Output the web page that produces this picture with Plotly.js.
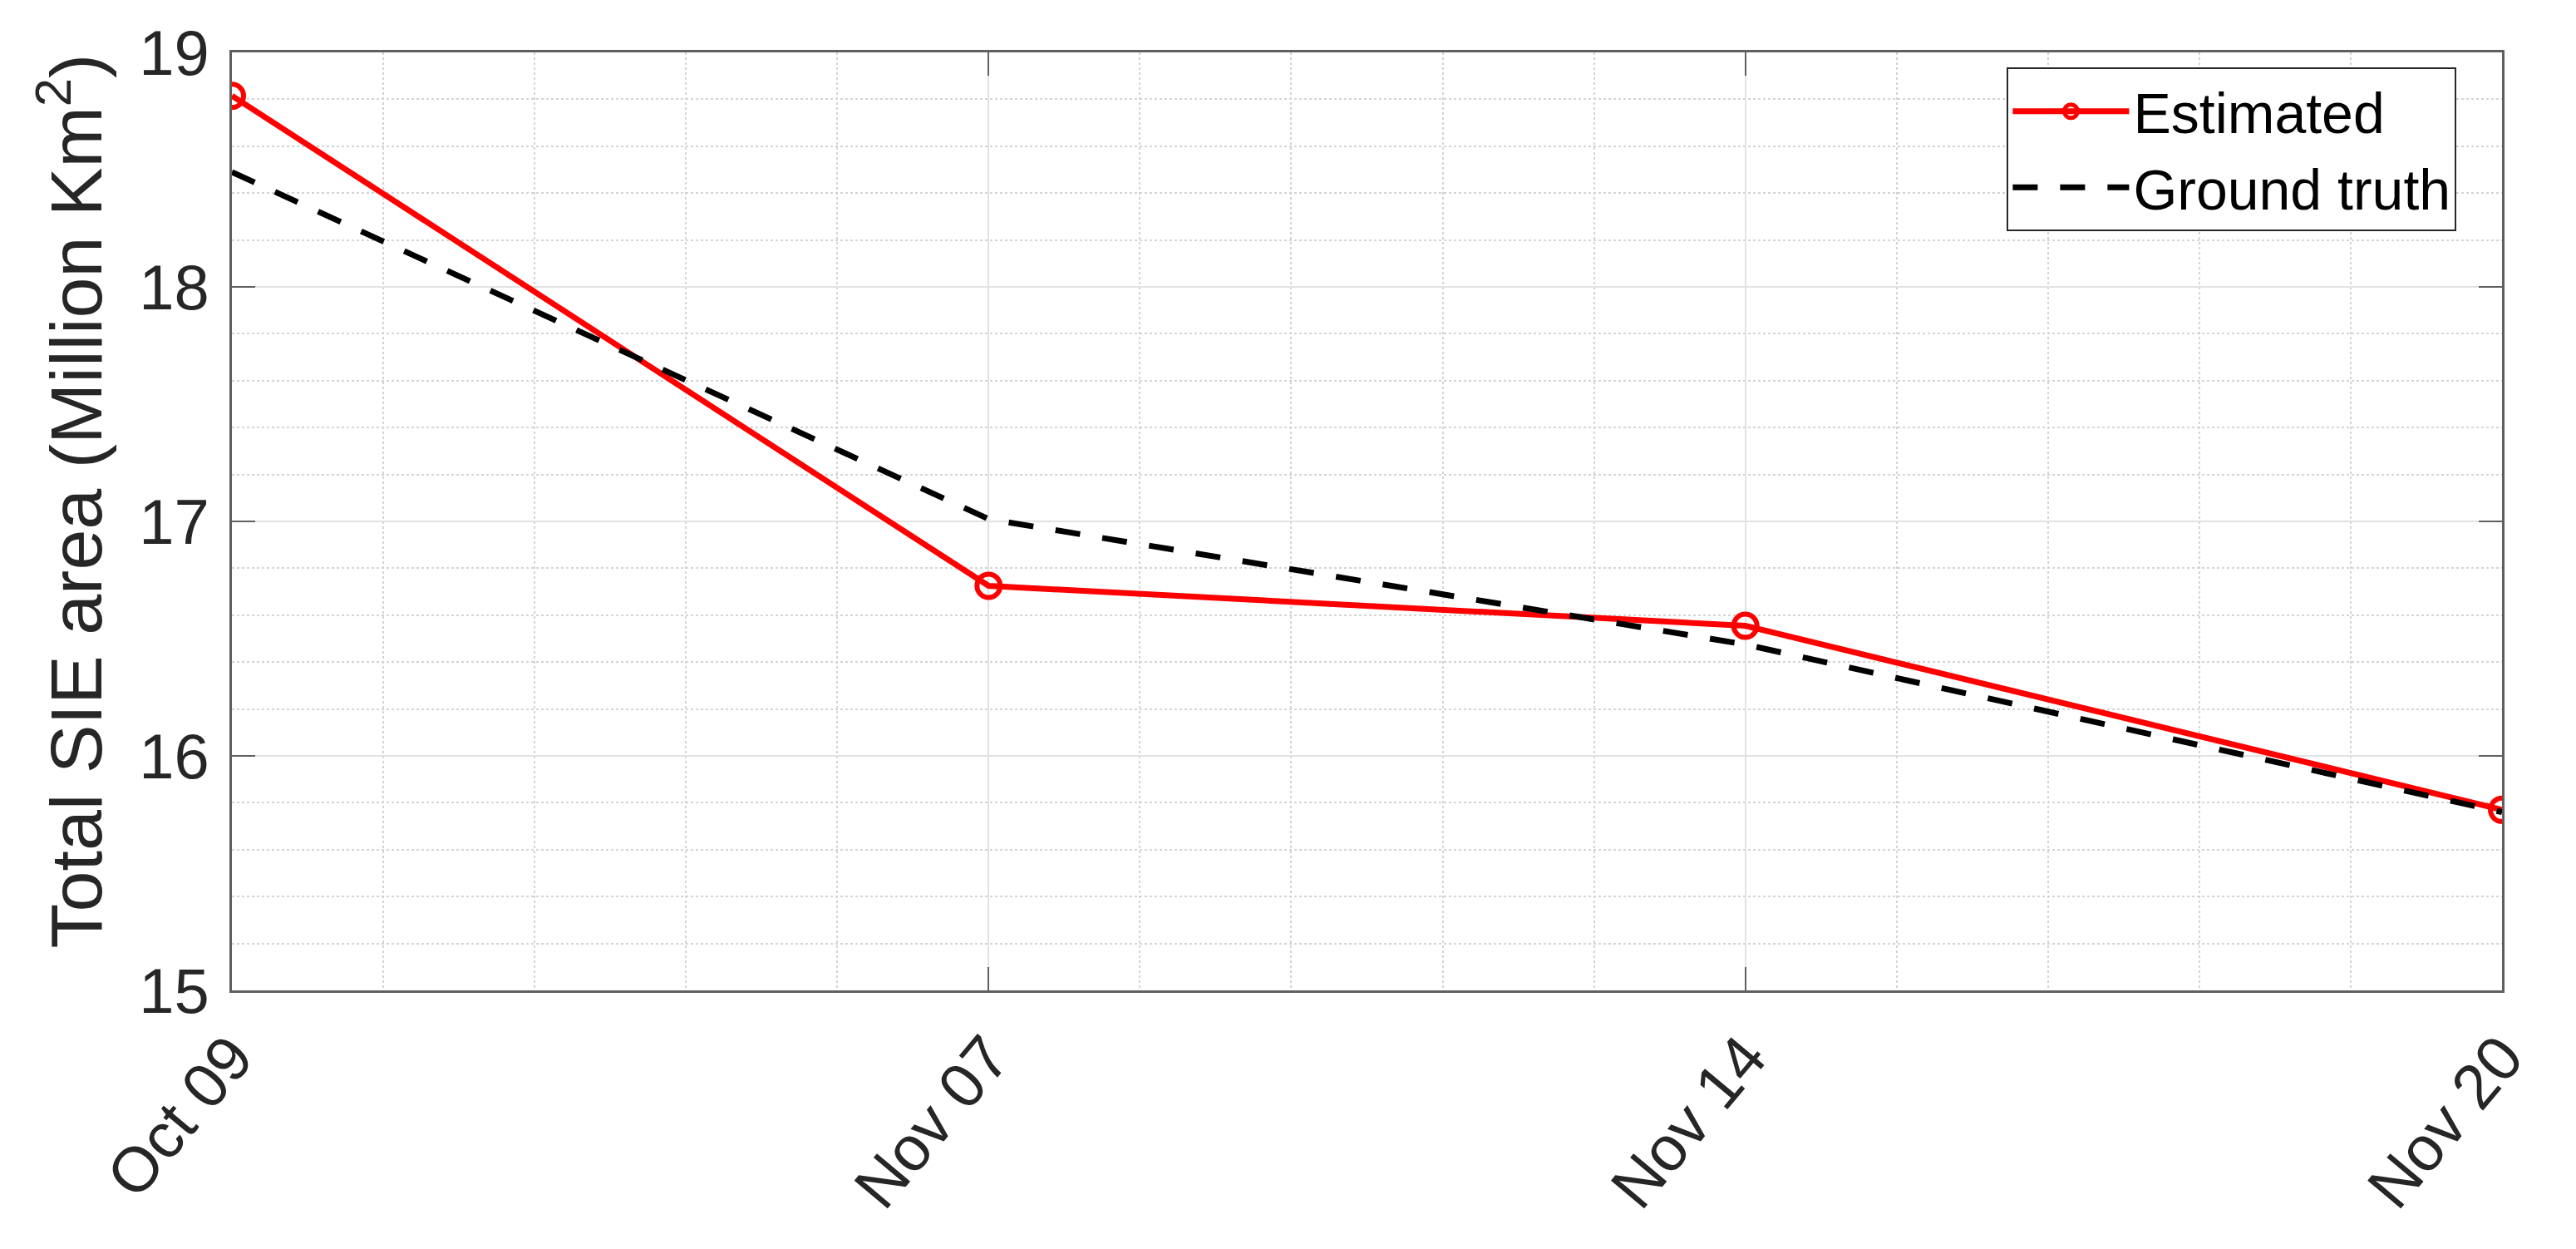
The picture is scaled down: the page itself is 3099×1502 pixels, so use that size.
<!DOCTYPE html>
<html>
<head>
<meta charset="utf-8">
<script src="https://cdn.plot.ly/plotly-3.0.1.min.js"></script>
<style>html,body{margin:0;padding:0;background:#fff;}#chart{width:3099px;height:1502px;}</style>
</head>
<body>
<div id="chart"></div>
<script>
// ---- data ----
const categories = ["Oct 09", "Nov 07", "Nov 14", "Nov 20"];
const estimated = [18.815, 16.725, 16.555, 15.77];
const groundTruth = [18.49, 17.01, 16.475, 15.76];
const yTickVals = [15, 16, 17, 18, 19];
const seriesNames = ["Estimated", "Ground truth"];

const xIdx = categories.map((_, i) => i);
const FONT = '"Liberation Sans", Arial, Helvetica, sans-serif';
const AX = '#5f5f5f';

const traces = [
  {
    x: xIdx, y: estimated, name: seriesNames[0], type: 'scatter', mode: 'lines+markers',
    line: {color: '#ff0000', width: 7},
    marker: {symbol: 'circle-open', size: 28, color: '#ff0000', line: {width: 6, color: '#ff0000'}}
  },
  {
    x: xIdx, y: groundTruth, name: seriesNames[1], type: 'scatter', mode: 'lines',
    line: {color: '#000000', width: 7, dash: '30px,27px'}
  }
];

const layout = {
  width: 3099, height: 1502,
  paper_bgcolor: '#ffffff', plot_bgcolor: '#ffffff',
  margin: {l: 279, r: 89, t: 63, b: 311, pad: 0},
  font: {family: FONT, color: '#262626'},
  showlegend: true,
  legend: {
    x: 0.98, y: 0.984, xanchor: 'right', yanchor: 'top',
    bgcolor: '#ffffff', bordercolor: '#262626', borderwidth: 2,
    font: {family: FONT, size: 68, color: '#000000'},
    itemwidth: 140, tracegroupgap: 0
  },
  xaxis: {
    type: 'linear', range: [0, categories.length - 1],
    tickmode: 'array', tickvals: xIdx, ticktext: categories,
    tickangle: -50, tickfont: {family: FONT, size: 76, color: '#262626'},
    ticklabelstandoff: 2,
    ticks: 'inside', ticklen: 28, tickwidth: 2, tickcolor: AX,
    showline: true, linecolor: AX, linewidth: 3, mirror: 'ticks',
    showgrid: true, gridcolor: '#e2e2e2', gridwidth: 2,
    minor: {dtick: 0.2, showgrid: true, gridcolor: '#d4d4d4', gridwidth: 2, griddash: 'dot', ticks: ''},
    zeroline: false, fixedrange: true
  },
  yaxis: {
    range: [15, 19], tickmode: 'array', tickvals: yTickVals,
    tickfont: {family: FONT, size: 76, color: '#262626'},
    ticklabelstandoff: 9,
    ticks: 'inside', ticklen: 28, tickwidth: 2, tickcolor: AX,
    showline: true, linecolor: AX, linewidth: 3, mirror: 'ticks',
    showgrid: true, gridcolor: '#e2e2e2', gridwidth: 2,
    minor: {dtick: 0.2, showgrid: true, gridcolor: '#d4d4d4', gridwidth: 2, griddash: 'dot', ticks: ''},
    zeroline: false, fixedrange: true,
    title: {text: '<span style="color:rgba(0,0,0,0)">a</span>Total SIE area (Million Km<sup>2</sup>)', font: {family: FONT, size: 88, color: '#262626'}, standoff: 16}
  }
};

Plotly.newPlot('chart', traces, layout, {displayModeBar: false, staticPlot: true});
</script>
</body>
</html>
